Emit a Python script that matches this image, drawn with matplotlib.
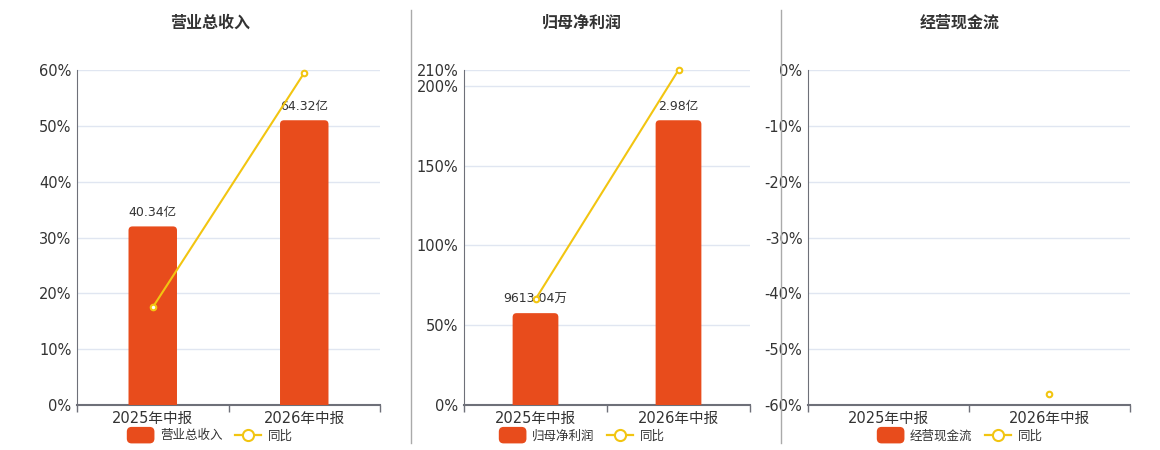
import matplotlib
matplotlib.use('Agg')
import matplotlib.pyplot as plt
from matplotlib.patches import Patch, FancyBboxPatch
from matplotlib.lines import Line2D
from matplotlib.legend_handler import HandlerPatch
import numpy as np

plt.rcParams['font.family'] = ['DejaVu Sans', 'Noto Sans CJK SC']

periods = ['2025年中报', '2026年中报']

titles = ['营业总收入', '归母净利润', '经营现金流']

# bar values in 亿 (None = no data)
revenue = [40.34, 64.32]
profit = [0.961304, 2.98]
cashflow = [None, None]

bar_labels_rev = ['40.34亿', '64.32亿']
bar_labels_profit = ['9613.04万', '2.98亿']
bar_labels_cash = [None, None]

# yoy growth in %
yoy_rev = [17.5, 59.5]
yoy_profit = [66.3, 210.0]
yoy_cash = [np.nan, -58.0]

# left axis ranges / ticks
ylims = [(0, 60), (0, 210), (-60, 0)]
yticks = [list(range(0, 61, 10)), [0, 50, 100, 150, 200, 210], list(range(-60, 1, 10))]

BAR = '#E84C1C'
LINE = '#F2C511'
GRID = '#E0E6F1'
AXIS = '#6E7079'
TXT = '#333333'

W, H = 1160, 450
fig = plt.figure(figsize=(W / 100, H / 100), dpi=100)

positions = [[77, 380], [464, 750], [808, 1130]]
title_x = [210, 582, 960]
BAR_W = 0.32
RADIUS_PX = 4


def rounded_patch(legend, orig_handle, xdescent, ydescent, width, height, fontsize):
    return FancyBboxPatch((-xdescent, -ydescent - 2), width, height + 4,
                          boxstyle='round,pad=0,rounding_size=3',
                          facecolor=BAR, edgecolor=BAR)


panels = [
    (revenue, bar_labels_rev, yoy_rev),
    (profit, bar_labels_profit, yoy_profit),
    (cashflow, bar_labels_cash, yoy_cash),
]

for i, (bars, labels, yoy) in enumerate(panels):
    l, r = positions[i]
    ax = fig.add_axes([l / W, 1 - 405 / H, (r - l) / W, 335 / H])
    x = np.arange(len(periods))

    # hidden axis for the bars
    axb = ax.twinx()
    axb.set_xlim(-0.5, 1.5)
    if any(v is not None for v in bars):
        vals = [v for v in bars]
        top = max(vals) / 0.85
        axb.set_ylim(0, top)
        rx = RADIUS_PX * 2.0 / (r - l)
        ry = RADIUS_PX * top / 335
        for xi, v, lab in zip(x, vals, labels):
            p = FancyBboxPatch((xi - BAR_W / 2, -ry), BAR_W, v + ry,
                               boxstyle=f'round,pad=0,rounding_size={rx}',
                               mutation_aspect=ry / rx,
                               facecolor=BAR, edgecolor='none', zorder=2)
            axb.add_patch(p)
            axb.annotate(lab, (xi, v), xytext=(0, 5), textcoords='offset points',
                         ha='center', va='bottom', fontsize=9, color=TXT)
    axb.set_yticks([])
    for s in axb.spines.values():
        s.set_visible(False)

    # yoy line on its own twin so it sits above the bars
    axl = ax.twinx()
    axl.set_ylim(*ylims[i])
    axl.plot(x, yoy, color=LINE, lw=1.5, marker='o', ms=4, mfc='white',
             mec=LINE, mew=1.5, zorder=3, clip_on=False)
    axl.set_yticks([])
    for s in axl.spines.values():
        s.set_visible(False)

    ax.set_xlim(-0.5, 1.5)
    ax.set_ylim(*ylims[i])
    ax.set_yticks(yticks[i])
    ax.set_yticklabels([f'{t}%' for t in yticks[i]])
    ax.tick_params(axis='y', length=0, labelsize=10.5, labelcolor=TXT, pad=4)
    ax.set_xticks(x)
    ax.set_xticklabels(periods)
    ax.set_xticks([-0.5, 0.5, 1.5], minor=True)
    ax.tick_params(axis='x', which='major', length=0, labelsize=10.5, labelcolor=TXT, pad=4)
    ax.tick_params(axis='x', which='minor', length=5, color=AXIS, width=1)
    ax.grid(axis='y', color=GRID, lw=1)
    ax.set_axisbelow(True)
    for s in ['top', 'right']:
        ax.spines[s].set_visible(False)
    ax.spines['left'].set_color(AXIS)
    ax.spines['bottom'].set_color(AXIS)
    ax.spines['bottom'].set_linewidth(1.5)

    fig.text(title_x[i] / W, 1 - 23 / H, titles[i], ha='center', va='center',
             fontsize=11.5, fontweight='bold', color=TXT, family=['Noto Sans CJK SC'])

    # legend
    bar_handle = Patch(facecolor=BAR, edgecolor=BAR, label=titles[i])
    handles = [bar_handle,
               Line2D([0], [0], color=LINE, lw=1.6, marker='o', ms=8, mfc='white',
                      mec=LINE, mew=1.5, label='同比')]
    fig.legend(handles=handles, loc='center', bbox_to_anchor=(title_x[i] / W, 1 - 436 / H),
               ncol=2, frameon=False, handlelength=2.1, handleheight=0.8,
               columnspacing=1.0, handletextpad=0.5,
               handler_map={bar_handle: HandlerPatch(patch_func=rounded_patch)},
               labelcolor=TXT, prop={'family': ['Noto Sans CJK SC'], 'size': 9})

# separators between panels
for sx in [411, 781]:
    fig.add_artist(Line2D([sx / W, sx / W], [1 - 10 / H, 1 - 443 / H],
                          color='#AAAAAA', lw=1))

fig.savefig('out.png', dpi=100)
